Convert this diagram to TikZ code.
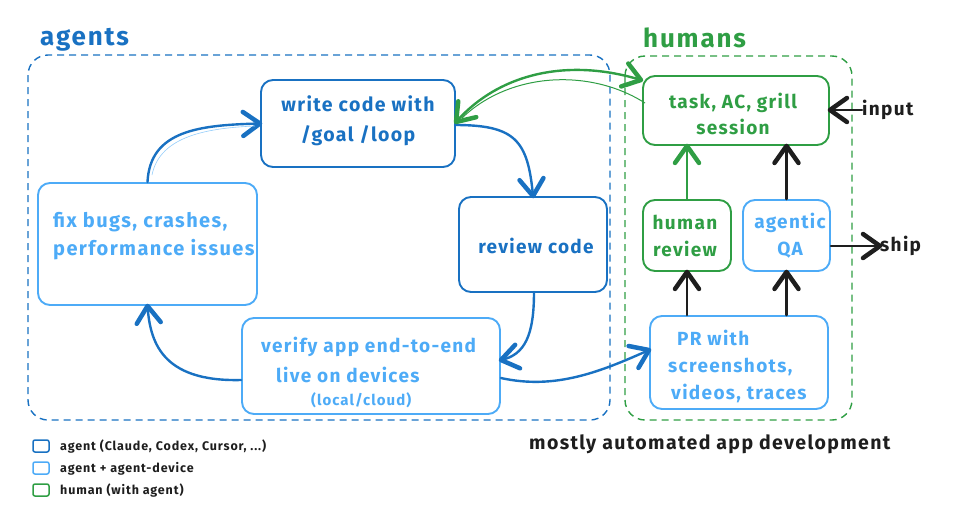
\documentclass[tikz,border=0pt]{standalone}
\usepackage{fontspec}
\setmainfont{Fira Sans}[LetterSpace=7.0]
\usetikzlibrary{arrows.meta,decorations.markings}
\definecolor{dblue}{HTML}{1971C2}
\definecolor{lblue}{HTML}{4DABF7}
\definecolor{hgreen}{HTML}{2F9E44}
\definecolor{ink}{HTML}{1E1E1E}
\tikzset{
  box/.style={draw=#1, line width=1.9pt, rounded corners=12pt, inner sep=0pt},
  lbl/.style={font=\fontsize{19}{27}\selectfont\bfseries, text=#1, align=center, inner sep=0pt},
  group/.style={draw=#1, line width=1.4pt, dash pattern=on 7pt off 5pt, rounded corners=20pt},
  headend/.style={postaction={decorate, decoration={markings,
     mark=at position 0.9999 with {\draw[#1, line width=4.5pt, line cap=round, line join=round, solid] (-17pt,-12pt) -- (0pt,0pt) -- (-17pt,12pt);}}}},
  headstart/.style={postaction={decorate, decoration={markings,
     mark=at position 0.0001 with {\draw[#1, line width=4.5pt, line cap=round, line join=round, solid] (17pt,-12pt) -- (0pt,0pt) -- (17pt,12pt);}}}},
  conn/.style={draw=#1, line width=2.4pt, line cap=round, headend=#1},
  legsq/.style={draw=#1, line width=1.5pt, rounded corners=2pt, minimum width=16pt, minimum height=12pt, inner sep=0pt},
}
\begin{document}
\begin{tikzpicture}[x=1pt,y=-1pt]
\useasboundingbox (0,0) rectangle (971,515);
% groups
\draw[group=dblue] (28,55) rectangle (610,420);
\draw[group=hgreen] (625,56) rectangle (852,420);
\node[lbl=dblue, font=\fontsize{26}{30}\selectfont\bfseries, anchor=west] (tagents) at (40,40) {agents};
\node[lbl=hgreen, font=\fontsize{26}{30}\selectfont\bfseries, anchor=west] (thumans) at (643,38) {humans};
% boxes
\node[box=dblue, minimum width=194pt, minimum height=87pt] (write) at (358,123.5) {};
\node[lbl=dblue, font=\fontsize{19.5}{30}\selectfont\bfseries] (writet) at (358,121) {write code with\\/goal /loop};
\node[box=dblue, minimum width=148pt, minimum height=95pt] (review) at (533,244.5) {};
\node[lbl=dblue] (reviewt) at (536,246) {review code};
\node[box=lblue, minimum width=219pt, minimum height=122pt] (fix) at (147.5,244) {};
\node[lbl=lblue, font=\fontsize{20}{28}\selectfont\bfseries, align=left, anchor=west] (fixt) at (53,236) {fix bugs, crashes,\\performance issues};
\node[box=lblue, minimum width=258pt, minimum height=96pt] (verify) at (371,366) {};
\node[lbl=lblue, anchor=west] (verifyt1) at (261,347) {verify app end-to-end};
\node[lbl=lblue, anchor=west] (verifyt2) at (276,375) {live on devices};
\node[lbl=lblue, font=\fontsize{15}{18}\selectfont\bfseries, anchor=west] (verifyt3) at (311,400) {(local/cloud)};
\node[box=hgreen, minimum width=186pt, minimum height=69pt] (task) at (736,110.5) {};
\node[lbl=hgreen, font=\fontsize{19}{26}\selectfont\bfseries] (taskt) at (733,114) {task, AC, grill\\session};
\node[box=hgreen, minimum width=88pt, minimum height=71pt] (human) at (687,235.5) {};
\node[lbl=hgreen] (humant) at (685,236) {human\\review};
\node[box=lblue, minimum width=87pt, minimum height=71pt] (qa) at (786.5,235.5) {};
\node[lbl=lblue] (qat) at (790,236) {agentic\\QA};
\node[box=lblue, minimum width=178pt, minimum height=93pt] (pr) at (739,362.5) {};
\node[lbl=lblue, align=left, anchor=west] (prt) at (668,366) {\hspace*{9pt}PR with\\screenshots,\\\hspace*{3pt}videos, traces};
% outside labels
\node[lbl=ink, anchor=west] (input) at (862,110) {input};
\node[lbl=ink, anchor=west] (ship) at (880,246) {ship};
\node[lbl=ink, font=\fontsize{19.5}{24}\selectfont\bfseries, anchor=west] (mostly) at (529,444) {mostly automated app development};
% agent loop
\draw[conn=dblue] (fix.north) .. controls (150,130) and (200,125) .. (write.west);
\draw[draw=lblue!60, line width=0.6pt] (152,175) .. controls (160,135) and (210,128) .. (255,126);
\draw[conn=dblue] (455,125) .. controls (515,125) and (528,140) .. (review.north);
\draw[conn=dblue] (534,292) .. controls (534,335) and (525,355) .. (verify.east|-0,360);
\draw[conn=dblue] (verify.west|-0,380) .. controls (160,382) and (150,340) .. (fix.south);
\draw[conn=dblue] (verify.east|-0,378) .. controls (555,390) and (600,372) .. (pr.west|-0,350);
% green link
\draw[conn=hgreen, headstart=hgreen] (456,122) .. controls (500,72) and (570,58) .. (641,80);
\draw[draw=hgreen, line width=1pt] (645,103) .. controls (590,68) and (510,72) .. (462,118);
% human flow
\draw[conn=hgreen] (human.north) -- (task.south-|human.north);
\draw[conn=ink] (qa.north) -- (task.south-|qa.north);
\draw[conn=ink] (pr.north-|human.north) -- (human.south);
\draw[conn=ink] (pr.north-|qa.north) -- (qa.south);
\draw[conn=ink] (input.west) -- (task.east|-input.west);
\draw[conn=ink] (qa.east|-ship.west) -- (ship.west);
% legend
\node[legsq=dblue] (l1) at (41,446) {};
\node[legsq=lblue] (l2) at (41,468) {};
\node[legsq=hgreen] (l3) at (41,490) {};
\node[lbl=ink, font=\fontsize{12.5}{14}\selectfont\bfseries, anchor=west] (l1t) at (60,447) {agent (Claude, Codex, Cursor, ...)};
\node[lbl=ink, font=\fontsize{12.5}{14}\selectfont\bfseries, anchor=west] (l2t) at (60,469) {agent + agent-device};
\node[lbl=ink, font=\fontsize{12.5}{14}\selectfont\bfseries, anchor=west] (l3t) at (60,491) {human (with agent)};
\end{tikzpicture}
\end{document}
